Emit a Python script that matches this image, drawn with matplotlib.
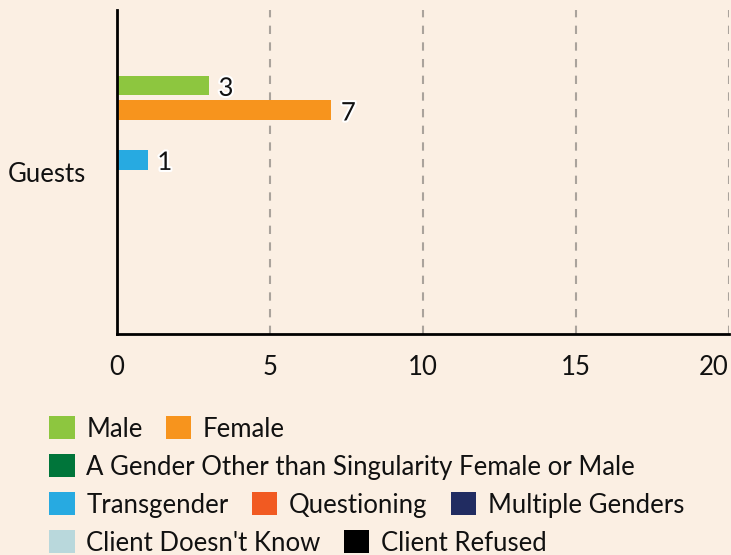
import matplotlib.pyplot as plt
import matplotlib.patheffects as pe
from matplotlib.patches import Patch

categories = ['Guests']
series = ['Male', 'Female', 'A Gender Other than Singularity Female or Male',
          'Transgender', 'Questioning', 'Multiple Genders',
          "Client Doesn't Know", 'Client Refused']
values = [3, 7, 0, 1, 0, 0, 0, 0]
colors = ['#8dc63f', '#f7941d', '#00753a', '#27aae1',
          '#f15a22', '#212c61', '#b9d8dc', '#000000']
xticks = [0, 5, 10, 15, 20]

# legend rows, as in the reference
legend_rows = [[0, 1], [2], [3, 4, 5], [6, 7]]

BG = '#fbefe3'
FS = 18.5
plt.rcParams['font.family'] = ['Lato', 'DejaVu Sans']

fig = plt.figure(figsize=(7.31, 5.55), dpi=100, facecolor=BG)
ax = fig.add_axes([117/731, 1 - 334/555, 612/731, 324/555])
ax.set_facecolor(BG)

step = 0.1
h = 0.08
n = len(series)
for i, (name, v, c) in enumerate(zip(series, values, colors)):
    y = (i - (n - 1) / 2) * step
    ax.barh(y, v, height=h, color=c, zorder=3)
    if v > 0:
        t = ax.annotate(str(v), (v, y), xytext=(7, -2), textcoords='offset points',
                        ha='left', va='center', fontsize=FS, color='#111111', zorder=4)
        t.set_path_effects([pe.withStroke(linewidth=3, foreground='white')])

ax.set_ylim(0.656, -0.656)
ax.set_xlim(0, 20)
ax.set_xticks(xticks)
ax.set_yticks([0])
ax.set_yticklabels(categories)
ax.tick_params(axis='both', length=0, labelsize=FS, colors='#111111')
ax.tick_params(axis='x', pad=15)
ax.tick_params(axis='y', pad=22)
# last tick label kept inside the figure
ax.get_xticklabels()[-1].set_ha('right')
ax.grid(axis='x', color='#aaa39c', linestyle=(0, (4, 4)), linewidth=1.5, zorder=0)
for s in ['top', 'right']:
    ax.spines[s].set_visible(False)
for s in ['left', 'bottom']:
    ax.spines[s].set_linewidth(2)
    ax.spines[s].set_color('black')
    ax.spines[s].set_zorder(5)

row_y = [1 - 429/555, 1 - 467/555, 1 - 505/555, 1 - 543/555]
for row, ry in zip(legend_rows, row_y):
    handles = [Patch(facecolor=colors[k], edgecolor='none', label=series[k]) for k in row]
    fig.legend(handles=handles, loc='center left', bbox_to_anchor=(49/731, ry),
               ncol=len(row), frameon=False, fontsize=FS, handlelength=1.0,
               handleheight=1.0, handletextpad=0.45, columnspacing=0.9,
               borderpad=0, borderaxespad=0, labelcolor='#111111')

fig.savefig('out.png', dpi=100, facecolor=BG)
